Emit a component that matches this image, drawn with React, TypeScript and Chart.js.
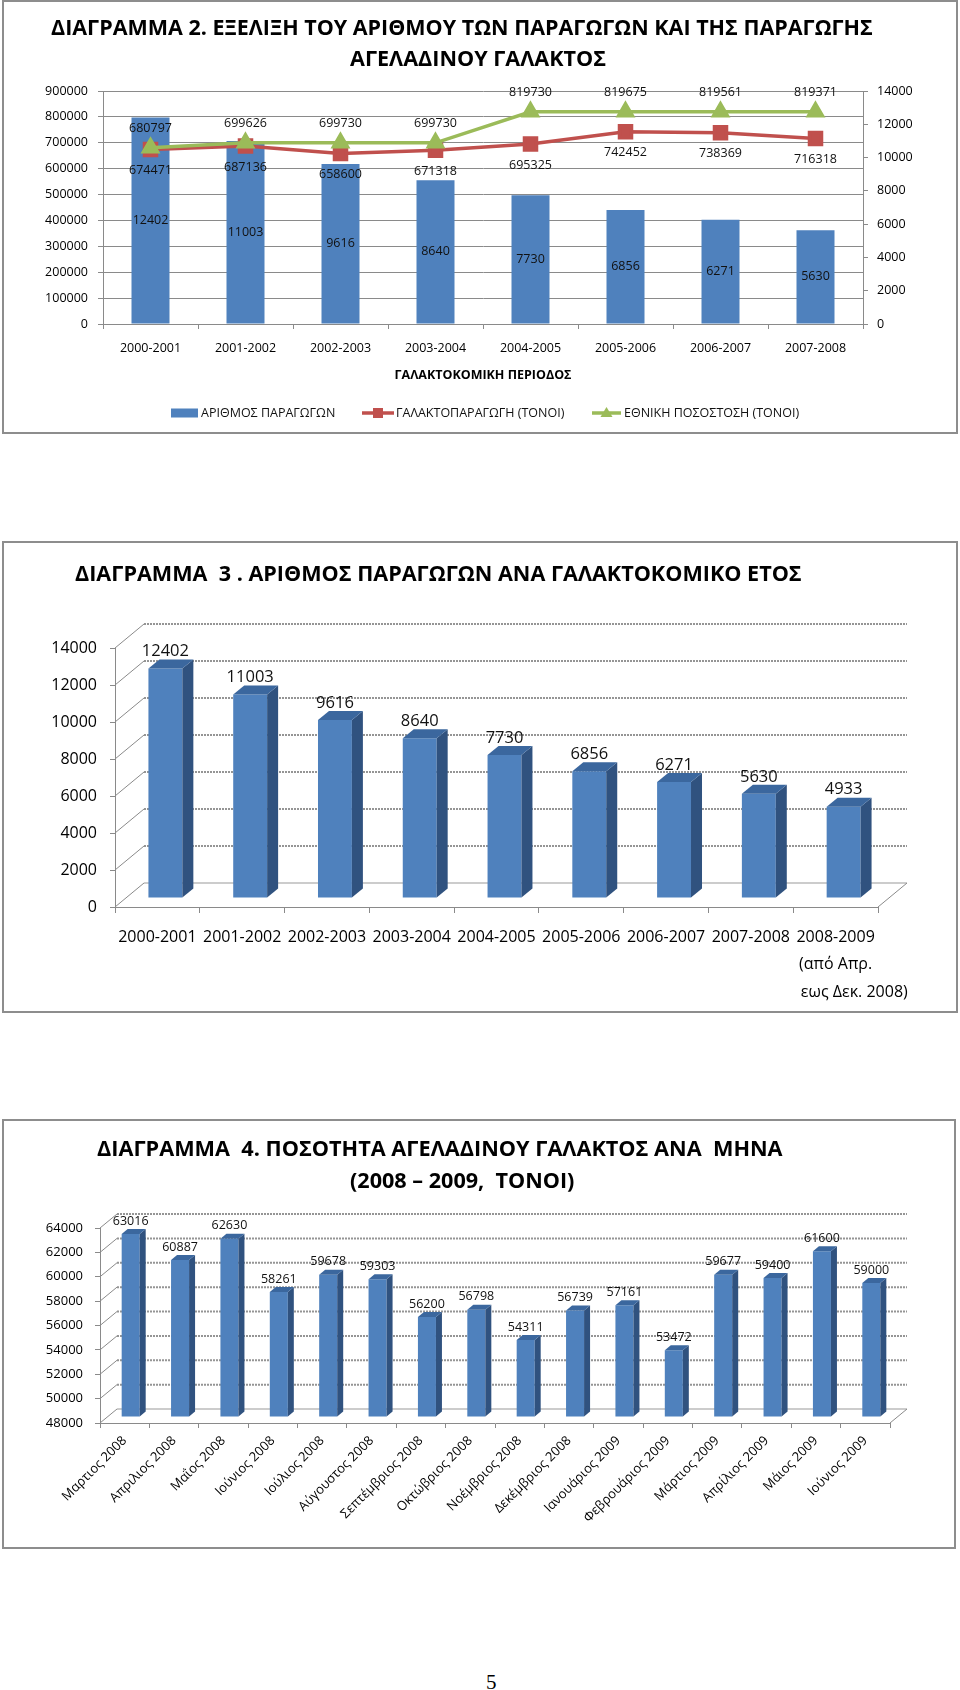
import React, { useEffect, useRef } from 'react';
import { Chart, registerables } from 'chart.js';

Chart.register(...registerables);

const FONT = "'Open Sans', 'Noto Sans', 'DejaVu Sans', sans-serif";

// ---------------- Chart 1 (ΔΙΑΓΡΑΜΜΑ 2) ----------------
const periods1 = ['2000-2001', '2001-2002', '2002-2003', '2003-2004', '2004-2005', '2005-2006', '2006-2007', '2007-2008'];
const producers1 = [12402, 11003, 9616, 8640, 7730, 6856, 6271, 5630];
const milkTons1 = [674471, 687136, 658600, 671318, 695325, 742452, 738369, 716318];
const quotaTons1 = [680797, 699626, 699730, 699730, 819730, 819675, 819561, 819371];
const leftAxis1 = [0, 900000, 100000];
const rightAxis1 = [0, 14000, 2000];
const seriesNames1 = ['ΑΡΙΘΜΟΣ ΠΑΡΑΓΩΓΩΝ', 'ΓΑΛΑΚΤΟΠΑΡΑΓΩΓΗ (ΤΟΝΟΙ)', 'ΕΘΝΙΚΗ ΠΟΣΟΣΤΟΣΗ (ΤΟΝΟΙ)'];
const xTitle1 = 'ΓΑΛΑΚΤΟΚΟΜΙΚΗ ΠΕΡΙΟΔΟΣ';
const title1 = ['ΔΙΑΓΡΑΜΜΑ 2. ΕΞΕΛΙΞΗ ΤΟΥ ΑΡΙΘΜΟΥ ΤΩΝ ΠΑΡΑΓΩΓΩΝ ΚΑΙ ΤΗΣ ΠΑΡΑΓΩΓΗΣ', 'ΑΓΕΛΑΔΙΝΟΥ ΓΑΛΑΚΤΟΣ'];

// ---------------- Chart 2 (ΔΙΑΓΡΑΜΜΑ 3) ----------------
const NB = '\u00a0';
const periods2: (string | string[])[] = [
  '2000-2001', '2001-2002', '2002-2003', '2003-2004', '2004-2005', '2005-2006', '2006-2007', '2007-2008',
  ['2008-2009', '(από Απρ.', NB.repeat(9) + 'εως Δεκ. 2008)'],
];
const producers2 = [12402, 11003, 9616, 8640, 7730, 6856, 6271, 5630, 4933];
const axis2 = [0, 14000, 2000];
const title2 = 'ΔΙΑΓΡΑΜΜΑ  3 . ΑΡΙΘΜΟΣ ΠΑΡΑΓΩΓΩΝ ΑΝΑ ΓΑΛΑΚΤΟΚΟΜΙΚΟ ΕΤΟΣ';

// ---------------- Chart 3 (ΔΙΑΓΡΑΜΜΑ 4) ----------------
const months3 = [
  'Μαρτιος 2008', 'Απριλιος 2008', 'Μαΐος 2008', 'Ιούνιος 2008', 'Ιούλιος 2008', 'Αύγουστος 2008',
  'Σεπτέμβριος 2008', 'Οκτώβριος 2008', 'Νοέμβριος 2008', 'Δεκέμβριος 2008', 'Ιανουάριος 2009',
  'Φεβρουάριος 2009', 'Μάρτιος 2009', 'Απρίλιος 2009', 'Μάιος 2009', 'Ιούνιος 2009',
];
const milk3 = [63016, 60887, 62630, 58261, 59678, 59303, 56200, 56798, 54311, 56739, 57161, 53472, 59677, 59400, 61600, 59000];
const axis3 = [48000, 64000, 2000];
const title3 = ['ΔΙΑΓΡΑΜΜΑ  4. ΠΟΣΟΤΗΤΑ ΑΓΕΛΑΔΙΝΟΥ ΓΑΛΑΚΤΟΣ ΑΝΑ  ΜΗΝΑ', '(2008 – 2009,  ΤΟΝΟΙ)'];

const BLUE = '#4F81BD';
const RED = '#C0504D';
const GREEN = '#9BBB59';
const GRID = '#8a8a8a';

const plain = (v: any) => String(v);

// ---------- Chart 1 config ----------
function config1(): any {
  const W = 960, H = 436, L = 103, R = 863, T = 91, B = 324;
  const f = { family: FONT, size: 12.5 };
  const labelsPlugin = {
    id: 'labels1',
    afterDatasetsDraw(chart: any) {
      const ctx = chart.ctx;
      ctx.save();
      ctx.font = `12.5px ${FONT}`;
      ctx.fillStyle = '#111';
      ctx.textAlign = 'center';
      ctx.textBaseline = 'middle';
      chart.data.datasets.forEach((ds: any, di: number) => {
        const meta = chart.getDatasetMeta(di);
        meta.data.forEach((el: any, i: number) => {
          const p = el.getProps(['x', 'y', 'base'], true);
          let y = p.y;
          if (ds.labelPos === 'center') y = (p.y + p.base) / 2;
          else if (ds.labelPos === 'below') y = p.y + 21;
          else y = p.y - 19;
          ctx.fillText(String(ds.data[i]), p.x, y);
        });
      });
      ctx.restore();
    },
    afterDraw(chart: any) {
      const ctx = chart.ctx;
      const ly = 413;
      ctx.save();
      ctx.font = `12.5px ${FONT}`;
      ctx.textBaseline = 'middle';
      ctx.textAlign = 'left';
      ctx.fillStyle = BLUE;
      ctx.fillRect(171, ly - 4.5, 27, 9);
      ctx.fillStyle = '#111';
      ctx.fillText(seriesNames1[0], 201, ly);
      ctx.strokeStyle = RED;
      ctx.lineWidth = 3.5;
      ctx.beginPath(); ctx.moveTo(362, ly); ctx.lineTo(394, ly); ctx.stroke();
      ctx.fillStyle = RED;
      ctx.fillRect(373, ly - 5, 10, 10);
      ctx.fillStyle = '#111';
      ctx.fillText(seriesNames1[1], 396, ly);
      ctx.strokeStyle = GREEN;
      ctx.beginPath(); ctx.moveTo(592, ly); ctx.lineTo(621, ly); ctx.stroke();
      ctx.fillStyle = GREEN;
      ctx.beginPath(); ctx.moveTo(606.5, ly - 6); ctx.lineTo(612.5, ly + 4); ctx.lineTo(600.5, ly + 4); ctx.closePath(); ctx.fill();
      ctx.fillStyle = '#111';
      ctx.fillText(seriesNames1[2], 624, ly);
      ctx.restore();
    },
  };
  return {
    type: 'bar',
    data: {
      labels: periods1,
      datasets: [
        {
          type: 'line', label: seriesNames1[2], data: quotaTons1, yAxisID: 'y', labelPos: 'above',
          borderColor: GREEN, backgroundColor: GREEN, pointBorderColor: GREEN, pointBackgroundColor: GREEN,
          borderWidth: 3.5, pointStyle: 'triangle', pointRadius: 8, order: 1,
        },
        {
          type: 'line', label: seriesNames1[1], data: milkTons1, yAxisID: 'y', labelPos: 'below',
          borderColor: RED, backgroundColor: RED, pointBorderColor: RED, pointBackgroundColor: RED,
          borderWidth: 3.5, pointStyle: 'rect', pointRadius: 8.5, order: 2,
        },
        {
          type: 'bar', label: seriesNames1[0], data: producers1, yAxisID: 'y1', labelPos: 'center',
          backgroundColor: BLUE, barPercentage: 0.4, categoryPercentage: 1, order: 3,
        },
      ],
    },
    options: {
      responsive: false,
      animation: false,
      layout: { padding: { top: T, left: 0, right: 0, bottom: 0 } },
      plugins: { legend: { display: false }, title: { display: false }, tooltip: { enabled: false } },
      scales: {
        x: {
          grid: { display: true, drawOnChartArea: false, drawTicks: true, tickLength: 5, color: GRID, offset: true },
          border: { display: true, color: GRID },
          ticks: { font: f, color: '#000', padding: 12, maxRotation: 0, autoSkip: false },
          title: { display: true, text: xTitle1, font: { family: FONT, size: 12.5, weight: 'bold' }, color: '#000', padding: { top: 0, bottom: 53 } },
          afterFit: (s: any) => { s.height = H - B; },
        },
        y: {
          position: 'left', min: leftAxis1[0], max: leftAxis1[1],
          ticks: { stepSize: leftAxis1[2], font: f, color: '#000', padding: 10, callback: plain },
          grid: { color: GRID, tickLength: 5 },
          border: { display: true, color: GRID },
          afterFit: (s: any) => { s.width = L; },
        },
        y1: {
          position: 'right', min: rightAxis1[0], max: rightAxis1[1],
          ticks: { stepSize: rightAxis1[2], font: f, color: '#000', padding: 9, callback: plain },
          grid: { drawOnChartArea: false, color: GRID, tickLength: 5 },
          border: { display: true, color: GRID },
          afterFit: (s: any) => { s.width = W - R; },
        },
      },
    },
    plugins: [labelsPlugin],
  };
}

// ---------- 3D bar plugin ----------
function make3D(p: {
  barDx: number; barDy: number; sideW: number; topH: number; wallDx: number; wallDy: number;
  labelSize: number; labelGap: number;
}) {
  return {
    id: 'bars3d',
    beforeDatasetsDraw(chart: any) {
      const { ctx, chartArea: a, scales } = chart;
      const ys = scales.y;
      ctx.save();
      ys.ticks.forEach((t: any) => {
        const py = ys.getPixelForValue(t.value);
        ctx.setLineDash([]);
        ctx.lineWidth = 1;
        ctx.strokeStyle = GRID;
        ctx.beginPath(); ctx.moveTo(a.left, py); ctx.lineTo(a.left + p.wallDx, py + p.wallDy); ctx.stroke();
        if (t.value === ys.min) {
          ctx.lineWidth = 1.2;
          ctx.strokeStyle = '#9a9a9a';
        } else {
          ctx.lineWidth = 2;
          ctx.strokeStyle = '#959595';
          ctx.setLineDash([2, 1]);
        }
        ctx.beginPath();
        ctx.moveTo(a.left + p.wallDx, py + p.wallDy);
        ctx.lineTo(a.right + p.wallDx, py + p.wallDy);
        ctx.stroke();
      });
      ctx.setLineDash([]);
      ctx.lineWidth = 1;
      ctx.strokeStyle = GRID;
      ctx.beginPath(); ctx.moveTo(a.right, a.bottom); ctx.lineTo(a.right + p.wallDx, a.bottom + p.wallDy); ctx.stroke();
      ctx.restore();
      ctx.save();
      ctx.translate(p.barDx, p.barDy);
    },
    afterDatasetsDraw(chart: any) {
      const ctx = chart.ctx;
      const meta = chart.getDatasetMeta(0);
      meta.data.forEach((el: any) => {
        const { x, y, base, width } = el.getProps(['x', 'y', 'base', 'width'], true);
        const l = x - width / 2, r = x + width / 2;
        ctx.fillStyle = '#30527F';
        ctx.beginPath();
        ctx.moveTo(r, y); ctx.lineTo(r + p.sideW, y - p.topH); ctx.lineTo(r + p.sideW, base - p.topH); ctx.lineTo(r, base);
        ctx.closePath(); ctx.fill();
        ctx.fillStyle = '#3B679E';
        ctx.beginPath();
        ctx.moveTo(l, y); ctx.lineTo(l + p.sideW, y - p.topH); ctx.lineTo(r + p.sideW, y - p.topH); ctx.lineTo(r, y);
        ctx.closePath(); ctx.fill();
      });
      ctx.restore();
      ctx.save();
      ctx.font = `${p.labelSize}px ${FONT}`;
      ctx.fillStyle = '#111';
      ctx.textAlign = 'center';
      ctx.textBaseline = 'middle';
      const ds = chart.data.datasets[0];
      meta.data.forEach((el: any, i: number) => {
        const { x, y } = el.getProps(['x', 'y'], true);
        ctx.fillText(String(ds.data[i]), x + p.barDx, y + p.barDy - p.labelGap);
      });
      ctx.restore();
    },
  };
}

// ---------- Chart 2 config ----------
function config2(): any {
  const W = 960, H = 475, L = 115, R = 878, T = 108, B = 367;
  return {
    type: 'bar',
    data: {
      labels: periods2,
      datasets: [{ data: producers2, base: axis2[0], backgroundColor: BLUE, barPercentage: 0.4, categoryPercentage: 1, clip: false }],
    },
    options: {
      responsive: false,
      animation: false,
      layout: { padding: { top: T, left: 0, right: W - R, bottom: 0 } },
      plugins: { legend: { display: false }, title: { display: false }, tooltip: { enabled: false } },
      scales: {
        x: {
          grid: { drawOnChartArea: false, tickLength: 6, color: GRID, offset: true },
          border: { display: true, color: GRID },
          ticks: { font: { family: FONT, size: 16, lineHeight: 1.7 }, color: '#000', padding: 11, maxRotation: 0, minRotation: 0, autoSkip: false },
          afterFit: (s: any) => { s.height = H - B; },
        },
        y: {
          min: axis2[0], max: axis2[1],
          ticks: { stepSize: axis2[2], font: { family: FONT, size: 16 }, color: '#000', padding: 13, callback: plain },
          grid: { drawOnChartArea: false, tickLength: 5, color: GRID },
          border: { display: true, color: GRID },
          afterFit: (s: any) => { s.width = L; },
        },
      },
    },
    plugins: [make3D({ barDx: 8, barDy: -9, sideW: 11, topH: 9, wallDx: 29, wallDy: -24, labelSize: 16.5, labelGap: 17 })],
  };
}

// ---------- Chart 3 config ----------
function config3(): any {
  const W = 960, H = 430, L = 100, R = 890, T = 108, B = 303;
  return {
    type: 'bar',
    data: {
      labels: months3,
      datasets: [{ data: milk3, base: axis3[0], backgroundColor: BLUE, barPercentage: 0.365, categoryPercentage: 1, clip: false }],
    },
    options: {
      responsive: false,
      animation: false,
      layout: { padding: { top: T, left: 0, right: W - R, bottom: 0 } },
      plugins: { legend: { display: false }, title: { display: false }, tooltip: { enabled: false } },
      scales: {
        x: {
          grid: { drawOnChartArea: false, tickLength: 5, color: GRID, offset: true },
          border: { display: true, color: GRID },
          ticks: { font: { family: FONT, size: 13 }, color: '#000', padding: 5, maxRotation: 45, minRotation: 45, autoSkip: false },
          afterFit: (s: any) => { s.height = H - B; },
        },
        y: {
          min: axis3[0], max: axis3[1],
          ticks: { stepSize: axis3[2], font: { family: FONT, size: 13 }, color: '#000', padding: 12, callback: plain },
          grid: { drawOnChartArea: false, tickLength: 5, color: GRID },
          border: { display: true, color: GRID },
          afterFit: (s: any) => { s.width = L; },
        },
      },
    },
    plugins: [make3D({ barDx: 6, barDy: -6, sideW: 6, topH: 5, wallDx: 17, wallDy: -14, labelSize: 12.5, labelGap: 13 })],
  };
}

function ChartCanvas({ top, height, make }: { top: number; height: number; make: () => any }) {
  const ref = useRef<HTMLCanvasElement | null>(null);
  useEffect(() => {
    if (!ref.current) return;
    const chart = new Chart(ref.current, make());
    return () => chart.destroy();
  }, []);
  return (
    <canvas
      ref={ref}
      width={960}
      height={height}
      style={{ position: 'absolute', left: 0, top, width: 960, height, display: 'block' }}
    />
  );
}

function Title({ text, left, cy, size }: { text: string; left: number; cy: number; size: number }) {
  return (
    <div
      style={{
        position: 'absolute', left, top: cy - 15, lineHeight: '30px', height: 30,
        fontFamily: FONT, fontWeight: 700, fontSize: size, whiteSpace: 'pre', color: '#000',
      }}
    >
      {text}
    </div>
  );
}

function Box({ left, top, width, height }: { left: number; top: number; width: number; height: number }) {
  return (
    <div
      style={{
        position: 'absolute', left, top, width, height, boxSizing: 'border-box',
        border: '2px solid #8d8d8d', background: '#fff',
      }}
    />
  );
}

export default function App() {
  return (
    <div style={{ position: 'absolute', left: 0, top: 0, width: 960, height: 1690, background: '#fff', overflow: 'hidden' }}>
      <Box left={2} top={0} width={956} height={434} />
      <Box left={2} top={541} width={956} height={472} />
      <Box left={2} top={1119} width={954} height={430} />

      <ChartCanvas top={0} height={436} make={config1} />
      <ChartCanvas top={540} height={475} make={config2} />
      <ChartCanvas top={1120} height={430} make={config3} />

      <Title text={title1[0]} left={51} cy={27} size={21.5} />
      <Title text={title1[1]} left={350} cy={58} size={21.6} />
      <Title text={title2} left={75} cy={573} size={21.6} />
      <Title text={title3[0]} left={97} cy={1148} size={21.7} />
      <Title text={title3[1]} left={350} cy={1180} size={21.6} />

      <div
        style={{
          position: 'absolute', left: 486, top: 1670, fontFamily: "'Liberation Serif', 'DejaVu Serif', serif",
          fontSize: 21, lineHeight: '24px', color: '#000',
        }}
      >
        5
      </div>
    </div>
  );
}
